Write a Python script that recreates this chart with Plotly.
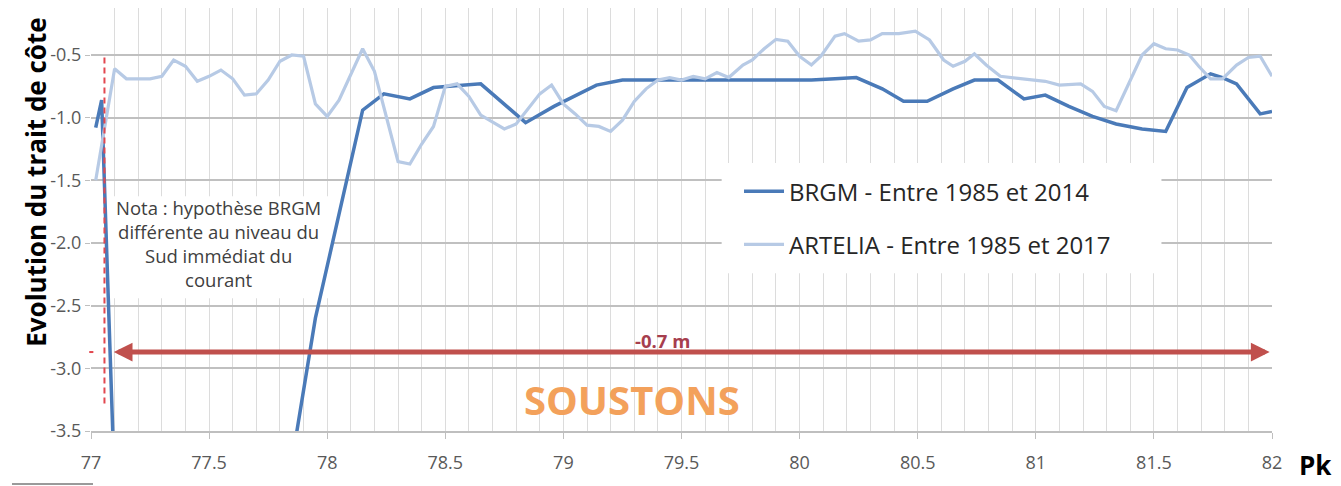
import plotly.graph_objects as go

# ---------------- data ----------------
pk_brgm = [77.02, 77.045, 77.10, 77.85, 77.95, 78.15, 78.24, 78.35, 78.45, 78.65,
           78.84, 78.96, 79.14, 79.25, 79.50, 79.80, 80.05, 80.15, 80.24, 80.35,
           80.44, 80.54, 80.65, 80.74, 80.84, 80.95, 81.04, 81.14, 81.24, 81.34,
           81.45, 81.55, 81.64, 81.74, 81.79, 81.85, 81.95, 82.00]
evol_brgm = [-1.08, -0.86, -3.95, -3.75, -2.60, -0.94, -0.81, -0.85, -0.76, -0.73,
             -1.04, -0.91, -0.74, -0.70, -0.70, -0.70, -0.70, -0.69, -0.68, -0.77,
             -0.87, -0.87, -0.77, -0.70, -0.70, -0.85, -0.82, -0.91, -0.99, -1.05,
             -1.09, -1.11, -0.76, -0.65, -0.68, -0.73, -0.97, -0.95]

pk_artelia = [77.02, 77.10, 77.15, 77.20, 77.25, 77.30, 77.35, 77.40, 77.45, 77.50,
              77.55, 77.60, 77.65, 77.70, 77.75, 77.80, 77.85, 77.90, 77.95, 78.00,
              78.05, 78.15, 78.20, 78.30, 78.35, 78.40, 78.45, 78.50, 78.55, 78.60,
              78.65, 78.75, 78.80, 78.90, 78.95, 79.00, 79.05, 79.10, 79.15, 79.20,
              79.25, 79.30, 79.35, 79.40, 79.45, 79.50, 79.55, 79.60, 79.65, 79.70,
              79.76, 79.80, 79.85, 79.90, 79.95, 80.00, 80.05, 80.09, 80.15, 80.19,
              80.25, 80.30, 80.35, 80.42, 80.49, 80.55, 80.61, 80.65, 80.70, 80.74,
              80.79, 80.85, 80.95, 81.04, 81.10, 81.19, 81.24, 81.29, 81.34, 81.40,
              81.45, 81.50, 81.55, 81.60, 81.65, 81.69, 81.74, 81.79, 81.85, 81.90,
              81.95, 82.00]
evol_artelia = [-1.50, -0.61, -0.69, -0.69, -0.69, -0.67, -0.54, -0.59, -0.71, -0.67,
                -0.62, -0.69, -0.82, -0.81, -0.70, -0.55, -0.50, -0.51, -0.89, -0.99,
                -0.86, -0.45, -0.63, -1.35, -1.37, -1.21, -1.07, -0.75, -0.73, -0.83,
                -0.98, -1.09, -1.05, -0.81, -0.74, -0.89, -0.97, -1.06, -1.07, -1.11,
                -1.02, -0.87, -0.77, -0.70, -0.68, -0.70, -0.67, -0.69, -0.64, -0.68,
                -0.58, -0.54, -0.45, -0.375, -0.39, -0.51, -0.58, -0.51, -0.35, -0.33,
                -0.39, -0.38, -0.33, -0.33, -0.31, -0.38, -0.54, -0.59, -0.55, -0.49,
                -0.58, -0.67, -0.69, -0.71, -0.74, -0.73, -0.79, -0.91, -0.945, -0.70,
                -0.50, -0.41, -0.45, -0.46, -0.50, -0.59, -0.69, -0.69, -0.58, -0.52,
                -0.51, -0.67]

series_names = ["BRGM - Entre 1985 et 2014", "ARTELIA - Entre 1985 et 2017"]

x_tick_vals = [77, 77.5, 78, 78.5, 79, 79.5, 80, 80.5, 81, 81.5, 82]
x_tick_text = ["77", "77.5", "78", "78.5", "79", "79.5", "80", "80.5", "81", "81.5", "82"]
y_tick_vals = [-3.5, -3.0, -2.5, -2.0, -1.5, -1.0, -0.5]
y_tick_text = ["-3.5", "-3.0", "-2.5", "-2.0", "-1.5", "-1.0", "-0.5"]

# annotation content
mean_evolution = -0.7            # average retreat shown by the red arrow
arrow_pk = [77.09, 81.99]        # extent of the red arrow
arrow_level = -2.87
nota_pk = 77.057                 # red dashed limit line
nota_level = [-0.52, -3.31]
nota_text = "Nota : hypothèse BRGM<br>différente au niveau du<br>Sud immédiat du<br>courant"
commune = "SOUSTONS"

FONT = "Open Sans"
DARK = "#4A7AB8"
LIGHT = "#B7CAE5"
RED = "#C0504D"

fig = go.Figure()
fig.add_trace(go.Scatter(x=pk_brgm, y=evol_brgm, mode="lines", name=series_names[0],
                         legendgroup="g1",
                         line=dict(color=DARK, width=3.5)))
fig.add_trace(go.Scatter(x=pk_artelia, y=evol_artelia, mode="lines", name=series_names[1],
                         legendgroup="g2",
                         line=dict(color=LIGHT, width=3.2)))

# white boxes behind legend and note (cover gridlines)
fig.add_shape(type="rect", xref="x", yref="y", x0=79.67, x1=81.532, y0=-2.241, y1=-1.3626,
              fillcolor="white", line_width=0, layer="between")
fig.add_shape(type="rect", xref="x", yref="y", x0=77.062, x1=78.02, y0=-2.441, y1=-1.626,
              fillcolor="white", line_width=0, layer="between")

# red dashed vertical line
fig.add_shape(type="line", xref="x", yref="y", x0=nota_pk, x1=nota_pk,
              y0=nota_level[0], y1=nota_level[1],
              line=dict(color="#E2474F", width=2, dash="6px,4px"), layer="above")

# small red mark on y axis
fig.add_shape(type="line", xref="paper", yref="y", x0=-0.0015, x1=0.002,
              y0=arrow_level, y1=arrow_level, line=dict(color="#E2474F", width=2))

# gray line bottom-left
fig.add_shape(type="line", xref="paper", yref="paper", x0=-0.0669, x1=0.0017,
              y0=-0.1255, y1=-0.1255, line=dict(color="#9A9A9A", width=2))

annotations = [
    dict(x=arrow_pk[1], y=arrow_level, ax=arrow_pk[0], ay=arrow_level,
         xref="x", yref="y", axref="x", ayref="y", text="", showarrow=True,
         arrowhead=2, arrowside="end+start", arrowwidth=5, arrowsize=0.75,
         arrowcolor=RED),
    dict(x=79.42, y=-2.775, xref="x", yref="y", text=f"<b>{mean_evolution} m</b>",
         showarrow=False, font=dict(family=FONT, size=18.5, color="#A63E4E")),
    dict(x=79.29, y=-3.25, xref="x", yref="y", text=f"<b>{commune}</b>",
         showarrow=False, font=dict(family=FONT, size=40, color="#F3A15B")),
    dict(x=77.54, y=-2.005, xref="x", yref="y", text=nota_text, showarrow=False,
         align="center", font=dict(family=FONT, size=18.5, color="#404040")),
    dict(x=-0.0466, y=0.589, xref="paper", yref="paper", text="<b>Evolution du trait de côte</b>",
         textangle=-90, showarrow=False, xanchor="center", yanchor="middle",
         font=dict(family=FONT, size=26, color="#000000")),
    dict(x=1.037, y=-0.080, xref="paper", yref="paper", text="<b>Pk</b>",
         showarrow=False, xanchor="center", yanchor="middle",
         font=dict(family=FONT, size=26, color="#000000")),
]

# the page body adds an 8 px offset; the figure is sized to fill the rest
fig.update_layout(
    width=1333, height=478,
    margin=dict(l=83, r=69, t=0, b=55),
    paper_bgcolor="white", plot_bgcolor="white",
    font=dict(family=FONT, color="#595959"),
    annotations=annotations,
    showlegend=True,
    legend=dict(x=0.5487, y=0.619, xanchor="left", yanchor="top",
                bgcolor="rgba(0,0,0,0)", tracegroupgap=19,
                font=dict(family=FONT, size=24, color="#262626"),
                traceorder="grouped", itemwidth=40),
)

fig.update_xaxes(
    range=[77, 82], tickmode="array", tickvals=x_tick_vals, ticktext=x_tick_text,
    showgrid=True, gridcolor="#DCDCDC", gridwidth=1,
    minor=dict(tickmode="linear", tick0=77, dtick=0.1, showgrid=True,
               gridcolor="#DCDCDC", gridwidth=1, ticks=""),
    showline=True, linecolor="#BFBFBF", linewidth=1.5,
    ticks="outside", ticklen=6, tickcolor="#BFBFBF", ticklabelstandoff=9,
    tickfont=dict(family=FONT, size=18, color="#595959"), zeroline=False,
)
fig.update_yaxes(
    range=[-3.5, -0.125], tickmode="array", tickvals=y_tick_vals, ticktext=y_tick_text,
    showgrid=True, gridcolor="#C0C0C0", gridwidth=1.5,
    showline=False, ticks="outside", ticklen=5, tickcolor="#BFBFBF",
    tickfont=dict(family=FONT, size=18, color="#595959"), zeroline=False,
)

fig.write_html("out.html")
